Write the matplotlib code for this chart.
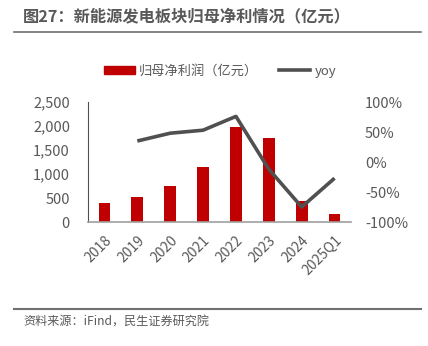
import matplotlib.pyplot as plt
import matplotlib.ticker as mticker
from matplotlib.lines import Line2D

plt.rcParams['font.family'] = ['Noto Sans CJK SC', 'DejaVu Sans']

# data
categories = ['2018', '2019', '2020', '2021', '2022', '2023', '2024', '2025Q1']
profit = [390, 517, 753, 1144, 1978, 1745, 435, 163]
yoy = [None, 35, 48, 53, 76, -12, -75, -27]

title = '图27：新能源发电板块归母净利情况（亿元）'
source = '资料来源：iFind，民生证券研究院'

red = '#C00000'
dark = '#505050'
gray = '#595959'

fig = plt.figure(figsize=(4.28, 3.46), dpi=100)
ax = fig.add_axes([88 / 428, 1 - 222 / 346, 263 / 428, 120 / 346])
ax2 = ax.twinx()

x = list(range(len(categories)))
ax.bar(x, profit, width=0.36, color=red, zorder=2)
yx = [i for i, v in zip(x, yoy) if v is not None]
yv = [v for v in yoy if v is not None]
ax2.plot(yx, yv, color=dark, lw=2.6, solid_capstyle='butt', zorder=3)

ax.set_xlim(-0.5, len(categories) - 0.5)
ax.set_ylim(0, 2500)
ax.yaxis.set_major_locator(mticker.MultipleLocator(500))
ax.yaxis.set_major_formatter(mticker.FuncFormatter(lambda v, p: f'{int(v):,}'))
ax2.set_ylim(-100, 100)
ax2.yaxis.set_major_locator(mticker.MultipleLocator(50))
ax2.yaxis.set_major_formatter(mticker.FuncFormatter(lambda v, p: f'{int(v)}%'))

for a in (ax, ax2):
    for s in a.spines.values():
        s.set_visible(False)
ax.spines['left'].set_visible(True)
ax.spines['left'].set_color(dark)
ax.spines['bottom'].set_visible(True)
ax.spines['bottom'].set_color('#A0A0A0')
ax.spines['bottom'].set_linewidth(1.2)

ax.set_xticks(x)
ax.set_xticklabels(categories, rotation=45, ha='right', rotation_mode='anchor',
                   fontsize=10, color=gray)
ax.tick_params(axis='x', length=0, pad=8)
ax.tick_params(axis='y', length=0, labelsize=10.5, labelcolor=gray, pad=13)
ax2.tick_params(axis='y', length=0, labelsize=10.5, labelcolor=gray, pad=10)

handles = [plt.Rectangle((0, 0), 1, 1, color=red),
           Line2D([0], [0], color=dark, lw=2.6)]
fig.legend(handles, ['归母净利润（亿元）', 'yoy'], loc='center',
           bbox_to_anchor=(220 / 428, 1 - 71 / 346), ncol=2, frameon=False,
           fontsize=9.5, handlelength=2.35, handleheight=0.55, columnspacing=1.6,
           handletextpad=0.3, labelcolor=gray)

fig.text(23 / 428, 1 - 16 / 346, title, fontsize=11.7, fontweight='bold',
         color=gray, va='center', ha='left')
fig.add_artist(Line2D([14 / 428, 421 / 428], [1 - 32 / 346, 1 - 32 / 346],
                      color='#707070', lw=1.2))
fig.add_artist(Line2D([14 / 428, 421 / 428], [1 - 309 / 346, 1 - 309 / 346],
                      color='#707070', lw=1.5))
fig.text(23 / 428, 1 - 322 / 346, source, fontsize=8.7, color=gray,
         va='center', ha='left')

fig.savefig('out.png', dpi=100)
